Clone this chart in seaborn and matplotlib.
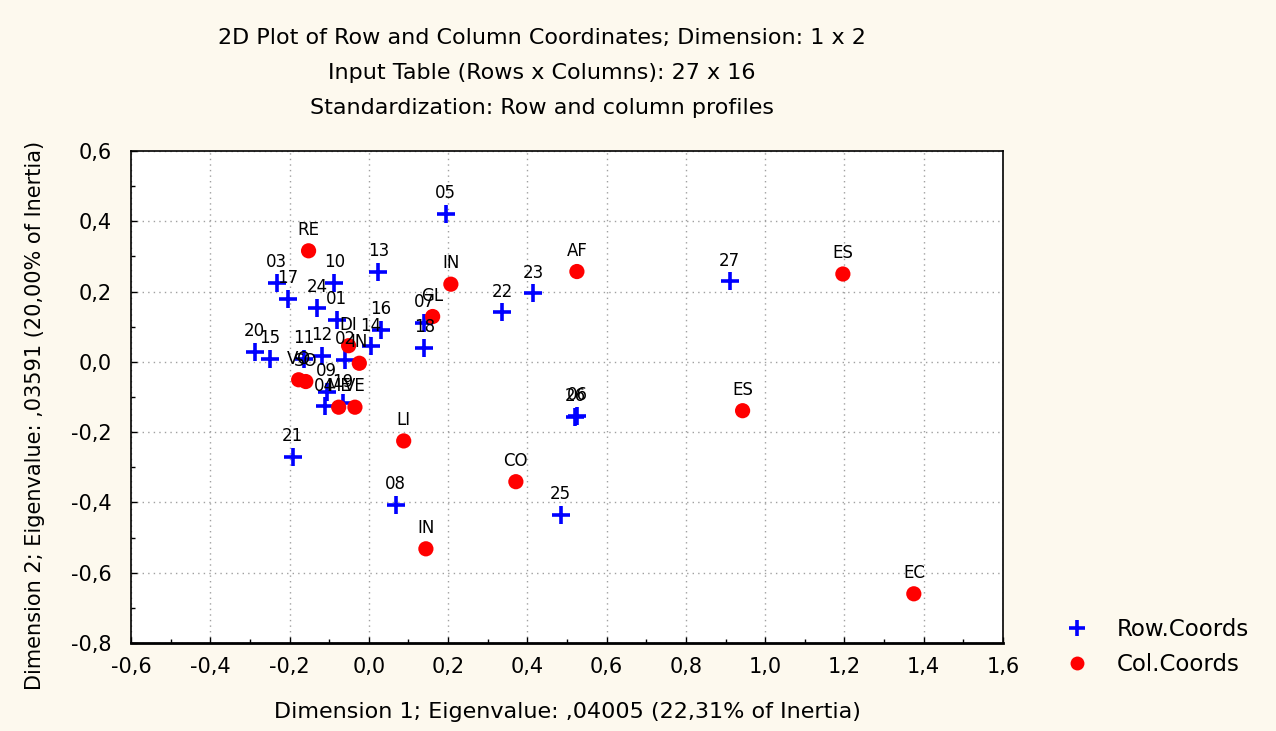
import numpy as np
import pandas as pd
import matplotlib
matplotlib.use("Agg")
import matplotlib.pyplot as plt
from matplotlib.lines import Line2D
from matplotlib.ticker import FuncFormatter, MultipleLocator
import seaborn as sns

# Row coordinates (27 rows)
row_labels = ["01", "02", "03", "04", "05", "06", "07", "08", "09", "10",
              "11", "12", "13", "14", "15", "16", "17", "18", "19", "20",
              "21", "22", "23", "24", "25", "26", "27"]
row_x = [-0.081, -0.060, -0.232, -0.111, 0.194, 0.525, 0.140, 0.068, -0.106, -0.087,
         -0.163, -0.119, 0.024, 0.005, -0.249, 0.030, -0.204, 0.140, -0.066, -0.288,
         -0.192, 0.337, 0.414, -0.131, 0.484, 0.520, 0.910]
row_y = [0.120, 0.006, 0.224, -0.127, 0.421, -0.153, 0.110, -0.407, -0.085, 0.224,
         0.008, 0.018, 0.255, 0.044, 0.008, 0.091, 0.180, 0.039, -0.117, 0.028,
         -0.270, 0.141, 0.195, 0.153, -0.435, -0.156, 0.229]

# Column coordinates (16 columns)
col_labels = ["RE", "IN", "AF", "ES", "GL", "DI", "IN", "VO", "SO", "ME",
              "VE", "LI", "CO", "IN", "ES", "EC"]
col_x = [-0.152, 0.207, 0.525, 1.196, 0.161, -0.051, -0.024, -0.177, -0.159, -0.076,
         -0.035, 0.088, 0.371, 0.144, 0.943, 1.375]
col_y = [0.316, 0.221, 0.257, 0.250, 0.129, 0.046, -0.004, -0.051, -0.056, -0.129,
         -0.129, -0.225, -0.341, -0.532, -0.139, -0.660]

x_ticks = [-0.6, -0.4, -0.2, 0.0, 0.2, 0.4, 0.6, 0.8, 1.0, 1.2, 1.4, 1.6]
y_ticks = [-0.8, -0.6, -0.4, -0.2, 0.0, 0.2, 0.4, 0.6]

rows = pd.DataFrame({"label": row_labels, "x": row_x, "y": row_y})
cols = pd.DataFrame({"label": col_labels, "x": col_x, "y": col_y})

sns.set_style("white")
plt.rcParams["font.family"] = ["DejaVu Sans"]
plt.rcParams["text.color"] = "black"
plt.rcParams["axes.labelcolor"] = "black"

bg = "#fdf9ee"
fig = plt.figure(figsize=(12.76, 7.31), dpi=100, facecolor=bg)
ax = fig.add_axes([131 / 1276, 1 - 643 / 731, (1003 - 131) / 1276, (643 - 151) / 731])
ax.set_facecolor("white")

sns.scatterplot(data=rows, x="x", y="y", marker="+", s=150, color="#0000ff",
                linewidth=2.6, ax=ax, zorder=3)
sns.scatterplot(data=cols, x="x", y="y", marker="o", s=120, color="#ff0000",
                edgecolor="none", ax=ax, zorder=3)

for df in (rows, cols):
    for lab, xv, yv in zip(df["label"], df["x"], df["y"]):
        ax.annotate(lab, (xv, yv), xytext=(0, 8.5), textcoords="offset points",
                    ha="center", va="bottom", fontsize=12, color="black", zorder=4)

ax.set_xlim(-0.6, 1.6)
ax.set_ylim(-0.8, 0.6)
ax.set_xticks(x_ticks)
ax.set_yticks(y_ticks)
comma = FuncFormatter(lambda v, p: f"{v:.1f}".replace(".", ",").replace("-0,0", "0,0"))
ax.xaxis.set_major_formatter(comma)
ax.yaxis.set_major_formatter(comma)
ax.xaxis.set_minor_locator(MultipleLocator(0.1))
ax.yaxis.set_minor_locator(MultipleLocator(0.1))
ax.tick_params(axis="both", which="both", direction="in", labelsize=15,
               colors="black", bottom=True, left=True, top=False, right=False,
               labelcolor="black")
ax.tick_params(which="major", length=4, width=1)
ax.tick_params(axis="x", which="major", pad=10)
ax.tick_params(axis="y", which="major", pad=14)
ax.tick_params(which="minor", length=3, width=1)
ax.grid(True, which="major", color="#a0a0a0", linestyle=(0, (1, 3)), linewidth=1)
for sp in ax.spines.values():
    sp.set_color("black")
    sp.set_linewidth(1.2)
ax.spines["bottom"].set_linewidth(2)

ax.set_xlabel("Dimension 1; Eigenvalue: ,04005 (22,31% of Inertia)", fontsize=16, labelpad=18)
ax.set_ylabel("")
fig.text(35 / 1276, 1 - 415 / 731, "Dimension 2; Eigenvalue: ,03591 (20,00% of Inertia)",
         rotation=90, ha="center", va="center", fontsize=15)

tx = 542 / 1276
fig.text(tx, 1 - 38 / 731, "2D Plot of Row and Column Coordinates; Dimension: 1 x 2",
         ha="center", va="center", fontsize=16)
fig.text(tx, 1 - 73 / 731, "Input Table (Rows x Columns): 27 x 16",
         ha="center", va="center", fontsize=16)
fig.text(tx, 1 - 108 / 731, "Standardization: Row and column profiles",
         ha="center", va="center", fontsize=16)

handles = [
    Line2D([], [], marker="+", color="#0000ff", linestyle="none", markersize=11, markeredgewidth=2.6),
    Line2D([], [], marker="o", color="#ff0000", linestyle="none", markersize=10, markeredgewidth=0),
]
fig.legend(handles, ["Row.Coords", "Col.Coords"], loc="upper left",
           bbox_to_anchor=(1033 / 1276, 1 - 597 / 731), frameon=False,
           fontsize=16.5, handletextpad=0.75, labelspacing=0.55)

fig.savefig("out.png", dpi=100, facecolor=bg)
